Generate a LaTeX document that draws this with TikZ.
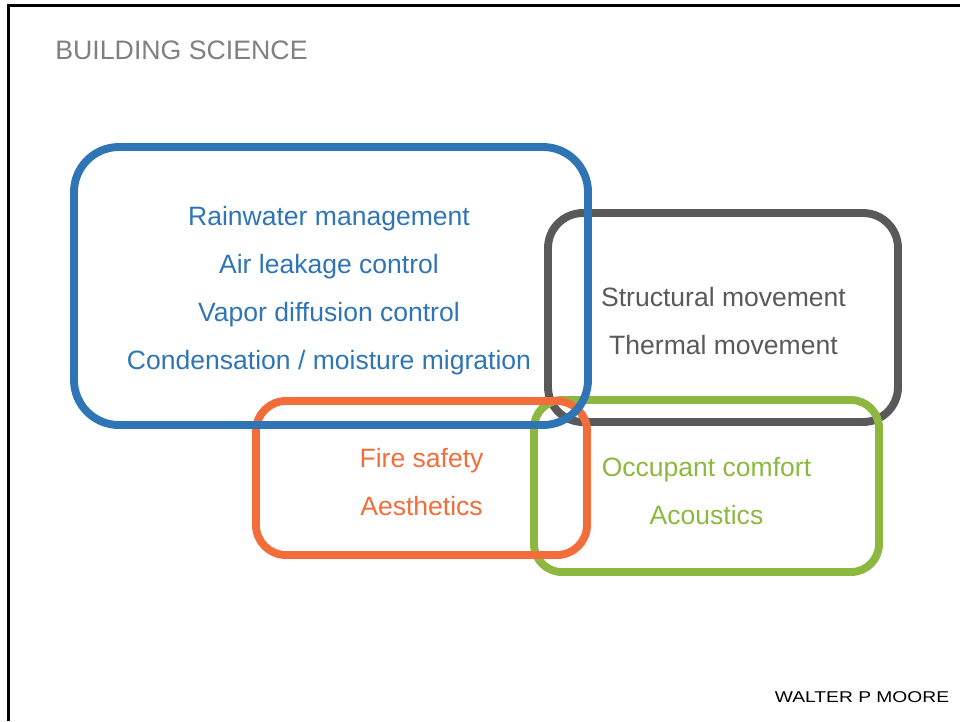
\documentclass[tikz,border=0pt]{standalone}
\usepackage{fontspec}
\setmainfont{Liberation Sans}
\newfontfamily\logofont[FakeStretch=1.23]{Liberation Sans}
\usepackage{tikz}
\usetikzlibrary{positioning}
\definecolor{BsBlue}{HTML}{2F75B5}
\definecolor{BsGrey}{HTML}{595959}
\definecolor{BsOrange}{HTML}{F26D3A}
\definecolor{BsGreen}{HTML}{8CB840}
\definecolor{BsTitle}{HTML}{808080}
\def\px{0.02cm}

\begin{document}
\begin{tikzpicture}[x=0.02cm,y=-0.02cm]
		\tikzstyle{Zone}=[rectangle,draw,line width=4.5pt,inner sep=0pt]
		\tikzstyle{Item}=[anchor=base,inner sep=0pt,font=\fontsize{15.1}{18}\selectfont]

		\def\gap {48}

		\useasboundingbox (0,0) rectangle (960,721);
		\draw [line width=1.7pt] (8.5,721) -- (8.5,5.5) -- (960,5.5);

		\node [anchor=base west,inner sep=0pt,text=BsTitle,font=\fontsize{15.2}{18}\selectfont] (Title) at (55,59) {BUILDING SCIENCE};
		\node [anchor=base,inner sep=0pt,font=\logofont\fontsize{8.9}{10}\selectfont] (Logo) at (862,702) {WALTER P MOORE};

		% grey first, blue last on top
		\node [Zone,draw=BsGrey,minimum width=350*\px,minimum height=209*\px,rounded corners=35*\px] (Movement) at (723,317.5) {};
		\node [Zone,draw=BsGreen,minimum width=345*\px,minimum height=172*\px,rounded corners=28*\px] (Comfort) at (706.5,486) {};
		\node [Zone,draw=BsOrange,minimum width=331*\px,minimum height=154*\px,rounded corners=30*\px] (Safety) at (421.5,478) {};
		\node [Zone,draw=BsBlue,minimum width=514*\px,minimum height=278*\px,rounded corners=45*\px] (Moisture) at (331,286) {};

		\foreach \t [count=\k] in {Rainwater management, Air leakage control, Vapor diffusion control, Condensation / moisture migration}
		{
			\node [Item,text=BsBlue] (M\k) at (329,{225 + \gap*(\k-1)}) {\t};
		}
		\foreach \t [count=\k] in {Structural movement, Thermal movement}
		{
			\node [Item,text=BsGrey] (S\k) at (723.5,{306 + \gap*(\k-1)}) {\t};
		}
		\foreach \t [count=\k] in {Fire safety, Aesthetics}
		{
			\node [Item,text=BsOrange] (F\k) at (421.5,{467 + \gap*(\k-1)}) {\t};
		}
		\foreach \t [count=\k] in {Occupant comfort, Acoustics}
		{
			\node [Item,text=BsGreen] (C\k) at (706.5,{476 + \gap*(\k-1)}) {\t};
		}

  \end{tikzpicture}
\end{document}
